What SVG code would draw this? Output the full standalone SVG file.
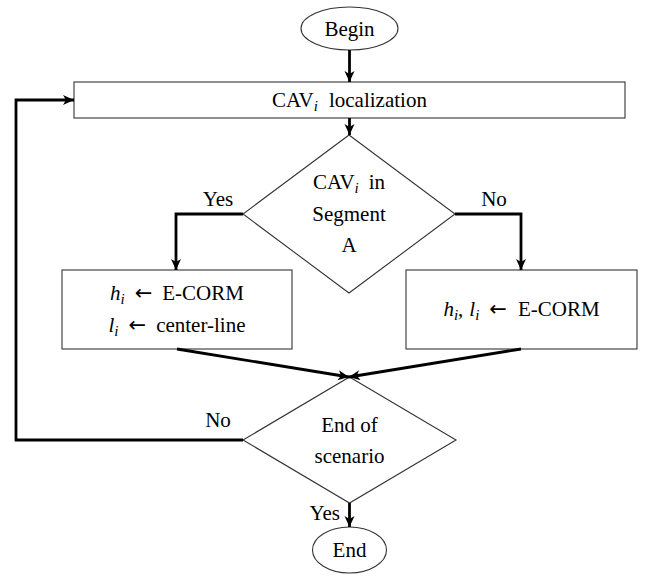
<svg xmlns="http://www.w3.org/2000/svg" width="645" height="580" viewBox="0 0 645 580">
<style>
.node{fill:#fff;stroke:#333;stroke-width:1.1}
.t{font-family:"Liberation Serif","Times New Roman",serif;font-size:21px;fill:#000}
.m{font-style:italic}
.s{font-style:italic;font-size:15px}
.a{font-family:"DejaVu Sans",sans-serif;font-size:21px}
.c{fill:none;stroke:#000;stroke-width:2.8;stroke-linejoin:miter}
</style>
<defs>
<marker id="ar" markerUnits="userSpaceOnUse" markerWidth="14" markerHeight="12" refX="11" refY="5" orient="auto">
<path d="M0,0 L11,5 L0,10 L3,5 Z" fill="#000"/>
</marker>
</defs>
<g id="begin">
<ellipse class="node" cx="349.5" cy="28.5" rx="48.5" ry="21.5"/>
<text class="t" x="349.5" y="35.5" text-anchor="middle">Begin</text>
</g>
<g id="localization">
<rect class="node" x="74" y="82" width="551" height="36"/>
<text class="t" x="349.5" y="106.5" text-anchor="middle">CAV<tspan class="s" dy="4">i</tspan><tspan dy="-4" dx="11">localization</tspan></text>
</g>
<g id="segment">
<polygon class="node" points="349,135 455,214 349,293 243,214"/>
<text class="t" x="349" y="189" text-anchor="middle">CAV<tspan class="s" dy="4">i</tspan><tspan dy="-4" dx="10">in</tspan></text>
<text class="t" x="349" y="221" text-anchor="middle">Segment</text>
<text class="t" x="349" y="252" text-anchor="middle">A</text>
</g>
<g id="boxA">
<rect class="node" x="62" y="270" width="230" height="79"/>
<text class="t" x="177" y="300" text-anchor="middle"><tspan class="m">h</tspan><tspan class="s" dy="4">i</tspan><tspan class="a" dy="-4" dx="10">←</tspan><tspan dx="10">E-CORM</tspan></text>
<text class="t" x="177" y="332" text-anchor="middle"><tspan class="m">l</tspan><tspan class="s" dy="4">i</tspan><tspan class="a" dy="-4" dx="10">←</tspan><tspan dx="10">center-line</tspan></text>
</g>
<g id="boxB">
<rect class="node" x="406" y="270" width="231" height="79"/>
<text class="t" x="521.5" y="316" text-anchor="middle"><tspan class="m">h</tspan><tspan class="s" dy="4">i</tspan><tspan dy="-4">,</tspan><tspan class="m" dx="6">l</tspan><tspan class="s" dy="4">i</tspan><tspan class="a" dy="-4" dx="10">←</tspan><tspan dx="11">E-CORM</tspan></text>
</g>
<g id="endScenario">
<polygon class="node" points="349.5,377 456,440 349.5,503 243,440"/>
<text class="t" x="349.5" y="432" text-anchor="middle">End of</text>
<text class="t" x="349.5" y="463" text-anchor="middle">scenario</text>
</g>
<g id="end">
<ellipse class="node" cx="349.5" cy="550" rx="37" ry="23"/>
<text class="t" x="349.5" y="557" text-anchor="middle">End</text>
</g>
<g id="connectors">
<path class="c" d="M349.5,50 L349.5,82" marker-end="url(#ar)"/>
<path class="c" d="M349.5,118 L349.5,135" marker-end="url(#ar)"/>
<path class="c" d="M243,214 L176,214 L176,270" marker-end="url(#ar)"/>
<path class="c" d="M455,214 L521,214 L521,270" marker-end="url(#ar)"/>
<path class="c" d="M177,349 L349,377" marker-end="url(#ar)"/>
<path class="c" d="M521,349 L349,377" marker-end="url(#ar)"/>
<path class="c" d="M243,440 L16,440 L16,100 L74,100" marker-end="url(#ar)"/>
<path class="c" d="M349.5,503 L349.5,527" marker-end="url(#ar)"/>
<text class="t" x="218" y="206" text-anchor="middle">Yes</text>
<text class="t" x="494" y="206" text-anchor="middle">No</text>
<text class="t" x="218" y="427" text-anchor="middle">No</text>
<text class="t" x="340" y="520" text-anchor="end">Yes</text>
</g>
</svg>
